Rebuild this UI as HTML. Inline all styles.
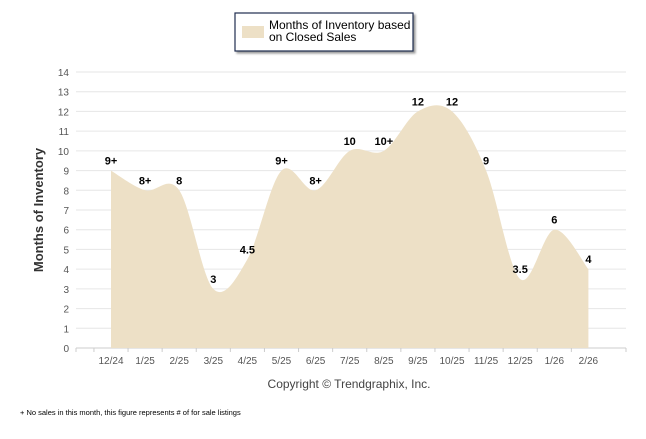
<!DOCTYPE html>
<html><head><meta charset="utf-8"><style>
body{margin:0;background:#fff;width:646px;height:434px;overflow:hidden;font-family:"Liberation Sans",sans-serif}
</style></head><body>
<svg width="646" height="434" xmlns="http://www.w3.org/2000/svg">
<g>
<rect x="235" y="13" width="178" height="38" fill="#fff" stroke="#1f2d4f" stroke-width="1.2" style="filter:drop-shadow(2px 2px 1px #999)"/>
<rect x="242" y="26" width="22" height="12" fill="#ede0c6"/>
<text x="269" y="29" font-size="12" fill="#000">Months of Inventory based</text>
<text x="269" y="41" font-size="12" fill="#000">on Closed Sales</text>
</g>
<g id="grid"></g>
<path id="area" fill="#ede0c6"/>
<g id="labels"></g>
<text x="43" y="210" font-size="13" font-weight="bold" fill="#333" transform="rotate(-90 43 210)" text-anchor="middle">Months of Inventory</text>
<text x="349" y="388" font-size="12" fill="#444" text-anchor="middle">Copyright © Trendgraphix, Inc.</text>
<text x="20" y="415" font-size="7.5" fill="#000">+ No sales in this month, this figure represents # of for sale listings</text>
</svg>
<script>
const categories=["12/24","1/25","2/25","3/25","4/25","5/25","6/25","7/25","8/25","9/25","10/25","11/25","12/25","1/26","2/26"];
const values=[9,8,8,3,4.5,9,8,10,10,12,12,9,3.5,6,4];
const valueLabels=["9+","8+","8","3","4.5","9+","8+","10","10+","12","12","9","3.5","6","4"];
const yTicks=[0,1,2,3,4,5,6,7,8,9,10,11,12,13,14];
const NS="http://www.w3.org/2000/svg";
const X0=111,STEP=34.1,Y0=348,YT=72,LEFT=76,RIGHT=626;
const x=i=>X0+i*STEP, y=v=>Y0-(v/14)*(Y0-YT);
const grid=document.getElementById('grid');
function mk(t,a,p){const e=document.createElementNS(NS,t);for(const k in a)e.setAttribute(k,a[k]);p.appendChild(e);return e;}
yTicks.forEach(t=>{
 const l=mk('line',{x1:LEFT,x2:RIGHT,y1:y(t),y2:y(t),stroke:t===0?'#ccc':'#e6e6e6','stroke-width':1},grid);
 
 
 const tx=mk('text',{x:LEFT-7,y:y(t)+4,'font-size':10,fill:'#555','text-anchor':'end'},grid);
 tx.textContent=t;
 
 
});
mk('line',{x1:LEFT,x2:LEFT,y1:y(0),y2:y(0)+4,stroke:'#ccc'},grid);
categories.forEach((c,i)=>{
 mk('line',{x1:x(i)-STEP/2,x2:x(i)-STEP/2,y1:y(0),y2:y(0)+4,stroke:'#ccc'},grid);
 const tx=mk('text',{x:x(i),y:y(0)+16,'font-size':10,fill:'#555','text-anchor':'middle'},grid);
 tx.textContent=c;
 
 
});
mk('line',{x1:RIGHT,x2:RIGHT,y1:y(0),y2:y(0)+4,stroke:'#ccc'},grid);
const pts=values.map((v,i)=>[x(i),y(v)]);
let d=`M${pts[0][0]},${y(0)} L${pts[0][0]},${pts[0][1]}`;
for(let i=0;i<pts.length-1;i++){
 const p0=pts[Math.max(0,i-1)],p1=pts[i],p2=pts[i+1],p3=pts[Math.min(pts.length-1,i+2)];
 const k=6;
 d+=` C${p1[0]+(p2[0]-p0[0])/k},${p1[1]+(p2[1]-p0[1])/k} ${p2[0]-(p3[0]-p1[0])/k},${p2[1]-(p3[1]-p1[1])/k} ${p2[0]},${p2[1]}`;
}
d+=` L${pts[pts.length-1][0]},${y(0)} Z`;
document.getElementById('area').setAttribute('d',d);
const lab=document.getElementById('labels');
valueLabels.forEach((s,i)=>{
 const tx=mk('text',{x:x(i),y:y(values[i])-6,'font-size':11,'font-weight':'bold',fill:'#000','text-anchor':'middle'},lab);
 tx.textContent=s;
 
 
});
</script>
</body></html>
